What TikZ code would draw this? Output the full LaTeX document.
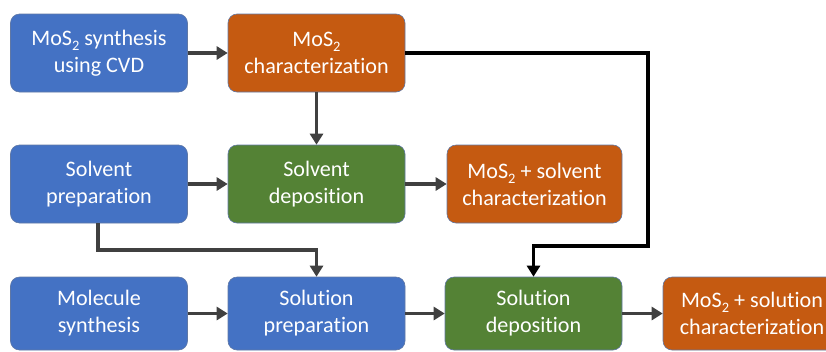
\documentclass[tikz,border=0pt]{standalone}
\usepackage{fontspec}
\setmainfont{Carlito}[Ligatures={NoCommon}]
\usetikzlibrary{arrows.meta}
\definecolor{bblue}{RGB}{68,114,196}
\definecolor{borange}{RGB}{197,90,17}
\definecolor{bgreen}{RGB}{84,130,53}
\definecolor{bedge}{RGB}{96,120,165}
\definecolor{agray}{RGB}{64,64,64}
\newcommand{\mostwo}{MoS\raisebox{-0.22em}{\fontsize{14.5}{14.5}\selectfont 2}}
\tikzset{
  box/.style={rectangle, rounded corners=9bp, draw=bedge, line width=0.6bp,
    text=white, align=center, minimum width=177bp, minimum height=78bp,
    inner sep=0pt, font=\fontsize{22.2}{27}\selectfont},
  bluebox/.style={box, fill=bblue},
  orangebox/.style={box, fill=borange},
  greenbox/.style={box, fill=bgreen},
  flow/.style={draw=agray, line width=3.6bp, -{Triangle[length=11bp,width=13bp]}},
  mainflow/.style={draw=black, line width=3.6bp, -{Triangle[length=11bp,width=13bp]}},
}
\begin{document}
\begin{tikzpicture}[x=1bp,y=-1bp]
\useasboundingbox (0,0) rectangle (826,351);
\clip (0,0) rectangle (826,351);
\node[bluebox] (A) at (99,53) {\mostwo{} synthesis\\using CVD};
\node[orangebox] (B) at (316.5,53) {\mostwo\\characterization};
\node[bluebox] (C) at (99,184) {Solvent\\preparation};
\node[greenbox] (D) at (316.5,184) {Solvent\\deposition};
\node[orangebox, minimum width=175bp] (E) at (534.5,184) {\mostwo{} + solvent\\characterization};
\node[bluebox, minimum height=73bp] (F) at (99,313.5) {Molecule\\synthesis};
\node[bluebox, minimum height=73bp] (G) at (316.5,313.5) {Solution\\preparation};
\node[greenbox, minimum height=73bp] (H) at (533.5,313.5) {Solution\\deposition};
\node[orangebox, minimum height=73bp, minimum width=178bp] (I) at (752,313.5) {\mostwo{} + solution\\characterization};
\coordinate (c1) at (648,0);
\coordinate (c2) at (0,246);
\coordinate (c3) at (98,250);
\draw[flow] (A) -- (B);
\draw[flow] (B) -- (D);
\draw[flow] (C) -- (D);
\draw[flow] (D) -- (E);
\draw[flow] (F) -- (G);
\draw[flow] (G) -- (H);
\draw[flow] (H) -- (I);
\draw[flow] (C.south -| c3) -- (c3) -| (G.north);
\draw[mainflow] (B.east) -- (B.east -| c1) |- (c1 |- c2) -| (H.north);
\end{tikzpicture}
\end{document}
